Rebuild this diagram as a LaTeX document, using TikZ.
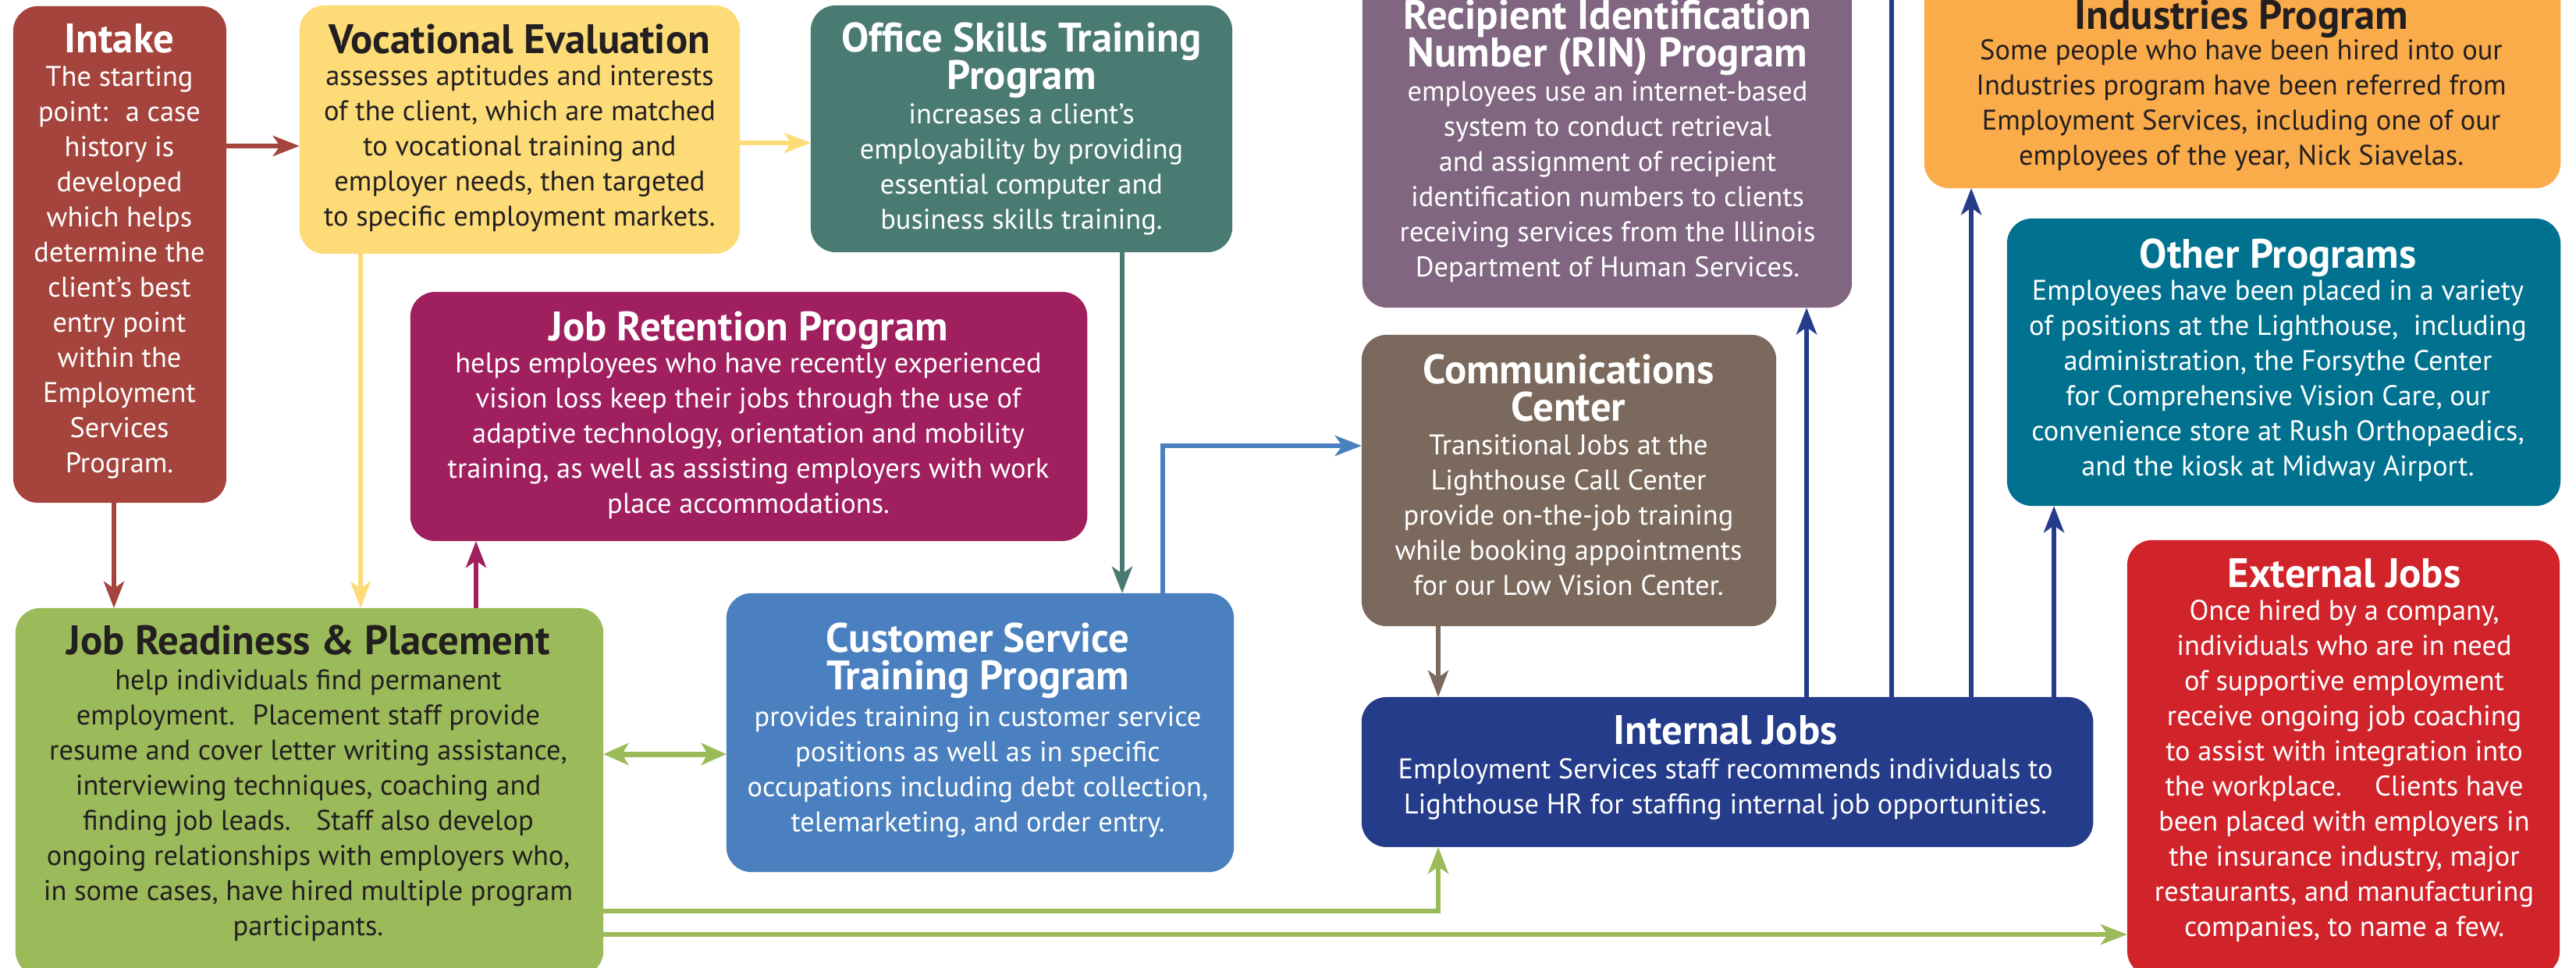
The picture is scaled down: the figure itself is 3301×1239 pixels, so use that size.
\documentclass[tikz,border=0pt]{standalone}
\usepackage{fontspec}
\setmainfont{PT Sans}
\usetikzlibrary{arrows.meta}
\definecolor{cIntake}{HTML}{A5443C}
\definecolor{cVoc}{HTML}{FDDC78}
\definecolor{cOffice}{HTML}{4A7B73}
\definecolor{cRin}{HTML}{806680}
\definecolor{cInd}{HTML}{FAAB4A}
\definecolor{cOther}{HTML}{00728F}
\definecolor{cJobret}{HTML}{A01F5F}
\definecolor{cComm}{HTML}{7B695D}
\definecolor{cJR}{HTML}{9BBB5A}
\definecolor{cCS}{HTML}{4A80BF}
\definecolor{cInternal}{HTML}{243C8A}
\definecolor{cExternal}{HTML}{D1232A}
\definecolor{cDark}{HTML}{231F20}
\newcommand{\mynoskip}{\lineskiplimit=-20pt\relax}
\tikzset{
  box/.style={rectangle, rounded corners=0.32cm, draw=none, inner sep=0pt, outer sep=0pt},
  bt/.style={font=\fontsize{10.35}{12.8}\selectfont\mynoskip, align=center, anchor=north, inner sep=0pt},
  tt/.style={font=\fontsize{15}{13.66}\selectfont\bfseries\mynoskip, align=center, anchor=north, inner sep=0pt},
  arr/.style={line width=0.06cm, -{Stealth[length=0.34cm, width=0.26cm, inset=0.09cm]}},
  plain/.style={line width=0.06cm},
  dbl/.style={line width=0.07cm, {Stealth[length=0.32cm, width=0.28cm, inset=0.08cm]}-{Stealth[length=0.32cm, width=0.28cm, inset=0.08cm]}}
}
\begin{document}
\begin{tikzpicture}[x=0.01cm, y=-0.01cm]
\useasboundingbox (0,0) rectangle (3301,1239);
\fill[white] (0,0) rectangle (3301,1239);

% boxes
\node[box, fill=cIntake, minimum width=2.73cm, minimum height=6.36cm] (intake) at (153.5,326) {};
\node[box, fill=cVoc, minimum width=5.64cm, minimum height=3.18cm] (voc) at (666,166) {};
\node[box, fill=cOffice, minimum width=5.40cm, minimum height=3.16cm] (office) at (1309,165) {};
\node[box, fill=cRin, minimum width=6.27cm, minimum height=4.34cm] (rin) at (2059.5,177) {};
\node[box, fill=cInd, minimum width=8.15cm, minimum height=2.81cm] (industries) at (2873.5,100.5) {};
\node[box, fill=cOther, minimum width=7.09cm, minimum height=3.68cm] (other) at (2926.5,464) {};
\node[box, fill=cJobret, minimum width=8.67cm, minimum height=3.19cm] (jobret) at (959.5,533.5) {};
\node[box, fill=cComm, minimum width=5.31cm, minimum height=3.73cm] (comm) at (2010.5,615.5) {};
\node[box, fill=cJR, minimum width=7.53cm, minimum height=4.71cm] (jr) at (396.5,1014.5) {};
\node[box, fill=cCS, minimum width=6.50cm, minimum height=3.57cm] (cs) at (1256,938.5) {};
\node[box, fill=cInternal, minimum width=9.37cm, minimum height=1.92cm] (internal) at (2213.5,989) {};
\node[box, fill=cExternal, minimum width=5.54cm, minimum height=5.58cm] (external) at (3003,971) {};

% texts
\node[tt, text=white] (intake-t) at (153,30) {\strut Intake};
\node[bt, text=white] (intake-b) at (153,78) {\strut The starting\\point:~ a case\\history is\\developed\\which helps\\determine the\\client’s best\\entry point\\within the\\Employment\\Services\\Program.};

\node[tt, text=cDark] (voc-t) at (666,30) {\strut Vocational Evaluation};
\node[bt, text=cDark] (voc-b) at (666,77) {\strut assesses aptitudes and interests\\of the client, which are matched\\to vocational training and\\employer needs, then targeted\\to specific employment markets.};

\node[tt, text=white] (office-t) at (1309,28) {\strut Office Skills Training\\Program};
\node[bt, text=white] (office-b) at (1309,126) {\strut increases a client’s\\employability by providing\\essential computer and\\business skills training.};

\node[tt, text=white] (rin-t) at (2060,-1) {\strut Recipient Identification\\Number (RIN) Program};
\node[bt, text=white] (rin-b) at (2060,97) {\strut employees use an internet-based\\system to conduct retrieval\\and assignment of recipient\\identification numbers to clients\\receiving services from the Illinois\\Department of Human Services.};

\node[tt, text=cDark] (ind-t) at (2872,-1) {\strut Industries Program};
\node[bt, text=cDark] (ind-b) at (2872,44) {\strut Some people who have been hired into our\\Industries program have been referred from\\Employment Services, including one of our\\employees of the year, Nick Siavelas.};

\node[tt, text=white] (other-t) at (2919,305) {\strut Other Programs};
\node[bt, text=white] (other-b) at (2919,352) {\strut Employees have been placed in a variety\\of positions at the Lighthouse,~ including\\administration, the Forsythe Center\\for Comprehensive Vision Care, our\\convenience store at Rush Orthopaedics,\\and the kiosk at Midway Airport.};

\node[tt, text=white] (jobret-t) at (959,398) {\strut Job Retention Program};
\node[bt, text=white] (jobret-b) at (959,445) {\strut helps employees who have recently experienced\\vision loss keep their jobs through the use of\\adaptive technology, orientation and mobility\\training, as well as assisting employers with work\\place accommodations.};

\node[tt, text=white] (comm-t) at (2010,453) {\strut Communications\\Center};
\node[bt, text=white] (comm-b) at (2010,550) {\strut Transitional Jobs at the\\Lighthouse Call Center\\provide on-the-job training\\while booking appointments\\for our Low Vision Center.};

\node[tt, text=cDark] (jr-t) at (395,800) {\strut Job Readiness \& Placement};
\node[bt, text=cDark] (jr-b) at (395,851) {\strut help individuals find permanent\\employment.~ Placement staff provide\\resume and cover letter writing assistance,\\interviewing techniques, coaching and\\finding job leads.~~ Staff also develop\\ongoing relationships with employers who,\\in some cases, have hired multiple program\\participants.};

\node[tt, text=white] (cs-t) at (1253,797) {\strut Customer Service\\Training Program};
\node[bt, text=white] (cs-b) at (1253,898) {\strut provides training in customer service\\positions as well as in specific\\occupations including debt collection,\\telemarketing, and order entry.};

\node[tt, text=white] (internal-t) at (2211,916) {\strut Internal Jobs};
\node[bt, text=white] (internal-b) at (2211,965) {\strut Employment Services staff recommends individuals to\\Lighthouse HR for staffing internal job opportunities.};

\node[tt, text=white] (external-t) at (3004,715) {\strut External Jobs};
\node[bt, text=white] (external-b) at (3004,762) {\strut Once hired by a company,\\individuals who are in need\\of supportive employment\\receive ongoing job coaching\\to assist with integration into\\the workplace.~~~ Clients have\\been placed with employers in\\the insurance industry, major\\restaurants, and manufacturing\\companies, to name a few.};

% helper coordinates
\coordinate (h187) at (0,187);
\coordinate (h183) at (0,183);
\coordinate (h571) at (0,571);
\coordinate (h966) at (0,966);
\coordinate (h1167) at (0,1167);
\coordinate (h1197) at (0,1197);
\coordinate (v146) at (146,0);
\coordinate (v462) at (462,0);
\coordinate (v610) at (610,0);
\coordinate (v1438) at (1438,0);
\coordinate (v1490) at (1490,0);
\coordinate (v1843) at (1843,0);
\coordinate (v2315) at (2315,0);
\coordinate (v2424) at (2424,0);
\coordinate (v2526) at (2526,0);
\coordinate (v2632) at (2632,0);
\coordinate (topend) at (2424,-20);

% connectors
\draw[arr, cIntake] (intake.east |- h187) -- (voc.west |- h187);
\draw[arr, cVoc] (voc.east |- h183) -- (office.west |- h183);
\draw[arr, cIntake] (intake.south -| v146) -- (jr.north -| v146);
\draw[arr, cVoc] (voc.south -| v462) -- (jr.north -| v462);
\draw[arr, cJobret] (jr.north -| v610) -- (jobret.south -| v610);
\draw[arr, cOffice] (office.south -| v1438) -- (cs.north -| v1438);
\draw[arr, cCS] (cs.north -| v1490) |- (comm.west |- h571);
\draw[dbl, cJR] (jr.east |- h966) -- (cs.west |- h966);
\draw[arr, cJR] (jr.east |- h1167) -| (internal.south -| v1843);
\draw[arr, cJR] (jr.east |- h1197) -- (external.west |- h1197);
\draw[arr, cComm] (comm.south -| v1843) -- (internal.north -| v1843);
\draw[arr, cInternal] (internal.north -| v2315) -- (rin.south -| v2315);
\draw[plain, cInternal] (internal.north -| v2424) -- (topend);
\draw[arr, cInternal] (internal.north -| v2526) -- (industries.south -| v2526);
\draw[arr, cInternal] (internal.north -| v2632) -- (other.south -| v2632);
\end{tikzpicture}
\end{document}
